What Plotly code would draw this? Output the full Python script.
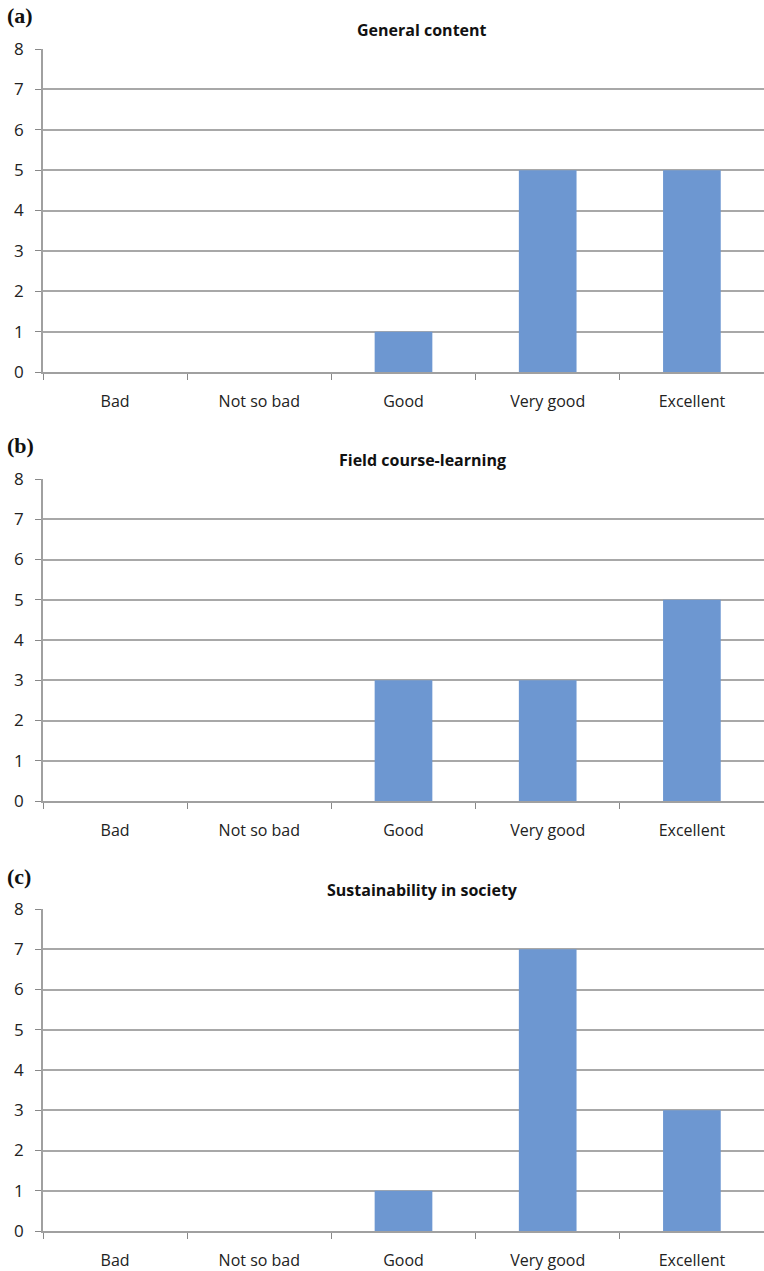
import plotly.graph_objects as go

# Data
categories = ["Bad", "Not so bad", "Good", "Very good", "Excellent"]
general_content = [0, 0, 1, 5, 5]
field_course = [0, 0, 3, 3, 5]
sustainability = [0, 0, 1, 7, 3]

panels = [
    ("(a)", "General content", general_content),
    ("(b)", "Field course-learning", field_course),
    ("(c)", "Sustainability in society", sustainability),
]

W = 764
H = 1271
L = 43
PW = W - L
# pixel rows of plot area (top, bottom) for each panel
rows_px = [(49, 372), (479, 801), (909, 1231)]


def py(p):
    # pixel row -> paper y
    return 1 - p / H


def px(p):
    # pixel column -> paper x
    return (p - L) / PW


fig = go.Figure()
annotations = []

for i, ((tag, title, vals), (top, bot)) in enumerate(zip(panels, rows_px)):
    n = "" if i == 0 else str(i + 1)
    fig.add_trace(go.Bar(
        x=categories, y=vals, width=0.40,
        marker=dict(color="#6d97d1", line=dict(width=0)),
        xaxis="x" + n, yaxis="y" + n, showlegend=False,
    ))
    fig.layout["xaxis" + n] = dict(
        domain=[0, 1], anchor="y" + n, automargin=False,
        tickson="boundaries", ticks="outside", ticklen=6, tickcolor="#888888",
        showline=True, linecolor="#a0a0a0", linewidth=1.5,
        showgrid=False, ticklabelstandoff=14,
        tickfont=dict(family="Open Sans", size=16, color="#222222"),
    )
    fig.layout["yaxis" + n] = dict(
        domain=[py(bot), py(top)], anchor="x" + n, automargin=False,
        range=[0, 8], dtick=1, ticks="outside", ticklen=6, tickcolor="#888888",
        showline=True, linecolor="#a0a0a0", linewidth=1.5,
        showgrid=True, gridcolor="#a8a8a8", gridwidth=1.5, zeroline=False,
        ticklabelstandoff=8,
        tickfont=dict(family="Open Sans", size=17, color="#222222"),
    )
    annotations.append(dict(
        text="<b>" + title + "</b>", x=px(422), y=py(top - 19),
        xref="paper", yref="paper", xanchor="center", yanchor="middle",
        showarrow=False,
        font=dict(family="Open Sans", size=16, color="#111111"),
    ))
    annotations.append(dict(
        text="<b>" + tag + "</b>", x=px(5), y=py(top - 33),
        xref="paper", yref="paper", xanchor="left", yanchor="middle",
        showarrow=False,
        font=dict(family="Liberation Serif", size=22, color="#111111"),
    ))

fig.update_layout(
    width=W, height=H,
    margin=dict(l=L, r=0, t=0, b=0),
    plot_bgcolor="white", paper_bgcolor="white",
    annotations=annotations,
)

# drop the page's default body margin so the figure fills the window
fig.write_html("out.html", config={"displayModeBar": False},
               post_script="document.body.style.margin='0';")
